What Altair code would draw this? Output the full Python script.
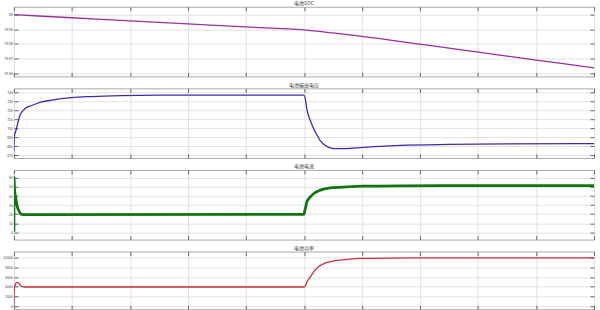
import altair as alt
import pandas as pd

FONT_CJK = "Noto Sans CJK SC"
FONT = "Liberation Sans"

# ---- data ----
soc_t = [0, 1, 2, 3, 4, 5, 5.5, 6, 7, 8, 9, 10]
soc_v = [80.0, 79.9979, 79.9958, 79.9937, 79.9916, 79.9896, 79.9875, 79.9852,
         79.9798, 79.9744, 79.9690, 79.9636]

volt_t = [0, 0.005, 0.011, 0.034, 0.069, 0.109, 0.137, 0.194, 0.309, 0.48, 0.65,
          0.995, 1.34, 1.85, 2.5, 5.0, 5.03, 5.05, 5.11, 5.17, 5.23, 5.28, 5.37,
          5.45, 5.57, 5.68, 5.8, 5.97, 6.31, 6.66, 7.5, 8.5, 10]
volt_v = [674, 690, 692, 697, 706, 715, 718, 721.7, 725, 729, 731, 733.8, 735,
          736, 736.5, 736.5, 730, 721, 708, 699, 691.5, 686, 680.5, 678, 677,
          677, 677.3, 678.2, 679.7, 680.8, 681.8, 682.3, 682.6]

cur_t = [0, 0.002, 0.01, 0.034, 0.051, 0.08, 0.11, 0.137, 0.2, 5.0, 5.01, 5.03,
         5.05, 5.11, 5.17, 5.28, 5.45, 5.74, 6.02, 6.66, 8, 10]
cur_v = [0.5, 61, 48, 37, 30, 24.5, 21, 19.8, 19.6, 19.8, 22.7, 28, 33.7, 39,
         42.8, 46.5, 49, 50.1, 50.8, 51.2, 51.4, 51.5]

pow_t = [0, 0.003, 0.008, 0.03, 0.051, 0.08, 0.11, 0.137, 0.19, 5.0, 5.03, 5.05,
         5.11, 5.17, 5.23, 5.31, 5.4, 5.51, 5.63, 5.8, 5.97, 6.5, 7.5, 10]
pow_v = [0, 1900, 3800, 4650, 4900, 4770, 4330, 4080, 3950, 3950, 4330, 4960,
         6050, 7130, 7960, 8590, 9050, 9350, 9540, 9730, 9870, 9950, 9990, 10000]

titles = ["电池SOC", "电池输出电压", "电池电流", "电池功率"]
soc_ticks = [79.96, 79.97, 79.98, 79.99, 80]
volt_ticks = [670, 680, 690, 700, 710, 720, 730, 740]
cur_ticks = [0, 10, 20, 30, 40, 50, 60]
pow_ticks = [0, 2000, 4000, 6000, 8000, 10000]
x_ticks = list(range(11))


def panel(t, v, title, domain, ticks, color, sw, h, fmt):
    df = pd.DataFrame({"t": t, "v": v})
    xs = alt.Scale(domain=[0, 10], nice=False, zero=False)
    ys = alt.Scale(domain=domain, nice=False, zero=False)
    line = alt.Chart(df).mark_line(color=color, strokeWidth=sw,
                                   interpolate="monotone", clip=True).encode(
        x=alt.X("t:Q", scale=xs, axis=alt.Axis(
            title=None, labels=False, ticks=False, domain=False, grid=True,
            values=x_ticks)),
        y=alt.Y("v:Q", scale=ys, axis=alt.Axis(
            title=None, values=ticks, format=fmt, labelFontSize=3.5,
            labelPadding=1.5, ticks=False, domain=False, grid=True,
            labelColor="#444", labelFont=FONT)),
    )

    def tick_layer(xo, yo):
        return alt.Chart(df).mark_line(opacity=0).encode(
            x=alt.X("t:Q", scale=xs, axis=alt.Axis(
                title=None, orient=xo, offset=-4, tickSize=4, labels=False,
                domain=False, grid=False, values=x_ticks, tickColor="#666")),
            y=alt.Y("v:Q", scale=ys, axis=alt.Axis(
                title=None, orient=yo, offset=-4, tickSize=4, labels=False,
                domain=False, grid=False, values=ticks, tickColor="#666")),
        )

    return alt.layer(line, tick_layer("top", "right"),
                     tick_layer("bottom", "left")).resolve_axis(
        x="independent", y="independent").properties(
        width=583, height=h,
        title=alt.TitleParams(title, fontSize=5, font=FONT_CJK, offset=0,
                              color="#333", fontWeight="normal"))


p1 = panel(soc_t, soc_v, titles[0], [79.9578, 80.00544], soc_ticks,
           "#9b2f9e", 1.3, 70, "~f")
p2 = panel(volt_t, volt_v, titles[1], [666.7, 744.1], volt_ticks,
           "#3a2ea6", 1.3, 70, "d")
p3 = panel(cur_t, cur_v, titles[2], [-8.0, 68.75], cur_ticks,
           "#127512", 2.8, 70, "d")
p4 = panel(pow_t, pow_v, titles[3], [-650, 11300], pow_ticks,
           "#c8303a", 1.3, 58, "d")

chart = alt.vconcat(p1, p2, p3, p4, spacing=5).properties(
    padding={"left": 2, "top": 0, "right": 5, "bottom": 0},
    background="white",
).configure_view(stroke="#a8a8a8", strokeWidth=1).configure_axis(
    gridColor="#e2e2e2", gridWidth=1, gridOpacity=1)

chart.save("out.html", embed_options={"renderer": "svg", "actions": False})
